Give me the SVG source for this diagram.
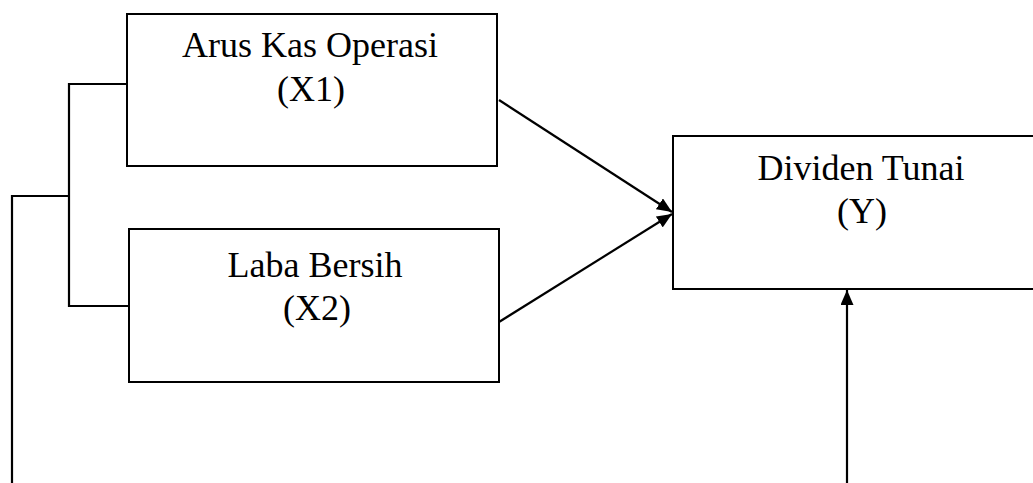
<svg xmlns="http://www.w3.org/2000/svg" width="1033" height="483" viewBox="0 0 1033 483">
<style>
.box{fill:#fff;stroke:#000;stroke-width:2}
.t{font-family:'Liberation Serif','Times New Roman',serif;font-size:36px;fill:#000;text-anchor:middle}
.ln{fill:none;stroke:#000;stroke-width:2.2}
</style>
<defs>
<marker id="ah" markerWidth="15" markerHeight="13" refX="15" refY="6.5" orient="auto" markerUnits="userSpaceOnUse">
<path d="M0,0 L15,6.5 L0,13 Z" fill="#000"/>
</marker>
</defs>
<rect width="1033" height="483" fill="#fff"/>
<g id="connectors">
<polyline class="ln" points="127,84 69,84 69,306 129,306"/>
<polyline class="ln" points="69,196 12,196 12,483"/>
<line class="ln" x1="499" y1="100" x2="672" y2="212" marker-end="url(#ah)"/>
<line class="ln" x1="499" y1="322" x2="672" y2="214" marker-end="url(#ah)"/>
<line class="ln" x1="847" y1="483" x2="847" y2="290" marker-end="url(#ah)"/>
</g>
<g id="x1">
<rect class="box" x="127" y="14" width="370" height="152"/>
<text class="t" x="310" y="57">Arus Kas Operasi</text>
<text class="t" x="311" y="101">(X1)</text>
</g>
<g id="x2">
<rect class="box" x="129" y="229" width="370" height="153"/>
<text class="t" x="315" y="277">Laba Bersih</text>
<text class="t" x="317" y="320">(X2)</text>
</g>
<g id="y">
<rect class="box" x="673" y="136" width="380" height="153"/>
<text class="t" x="861" y="180">Dividen Tunai</text>
<text class="t" x="862" y="223">(Y)</text>
</g>
</svg>
